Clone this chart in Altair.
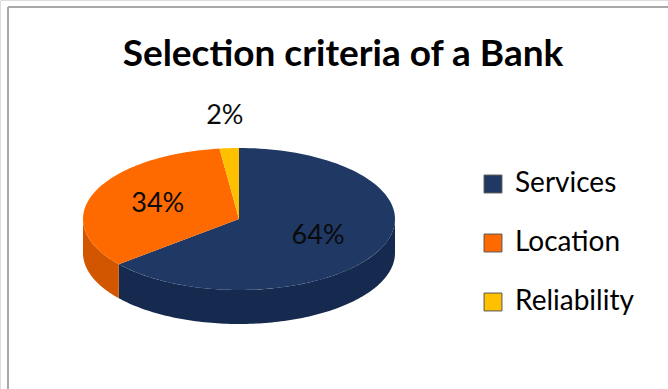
import numpy as np
import pandas as pd
import altair as alt

categories = ["Services", "Location", "Reliability"]
shares = [64, 34, 2]
top_colors = ["#1f3864", "#ff6a00", "#ffc000"]
side_colors = ["#152a4e", "#d25500", "#d9a300"]

CX, CY, RX, RY, DEPTH = 239, 219, 156, 71, 34
N = 120
FONT = "Lato"

total = float(sum(shares))
fr = np.concatenate([[0.0], np.cumsum(shares) / total])
d = DEPTH / RY

top_rows, side_rows, lab_rows = [], [], []
for k, cat in enumerate(categories):
    a0, a1 = fr[k] * 2 * np.pi, fr[k + 1] * 2 * np.pi
    pts = [(0.0, 0.0)] + [(np.sin(a), -np.cos(a)) for a in np.linspace(a0, a1, N)]
    for i, (u, v) in enumerate(pts):
        top_rows.append(dict(cat=cat, i=i, u=u, v=v))
    s0, s1 = max(a0, np.pi / 2), min(a1, 3 * np.pi / 2)
    if s1 > s0:
        arc = np.linspace(s0, s1, N)
        up = [(np.sin(a), -np.cos(a)) for a in arc]
        dn = [(u, v + d) for (u, v) in up[::-1]]
        for i, (u, v) in enumerate(up + dn):
            side_rows.append(dict(cat=cat, i=i, u=u, v=v, col=side_colors[k]))
    mid = (a0 + a1) / 2
    share = shares[k] / total
    r = 0.56 if share > 0.05 else 1.45
    lab_rows.append(dict(cat=cat, u=r * np.sin(mid), v=-r * np.cos(mid),
                         lab=f"{shares[k]}%"))

top_df = pd.DataFrame(top_rows)
side_df = pd.DataFrame(side_rows)
lab_df = pd.DataFrame(lab_rows)

xs = alt.Scale(domain=[-1, 1], range=[CX - RX, CX + RX], zero=False, nice=False)
ys = alt.Scale(domain=[-1, 1], range=[CY - RY, CY + RY], zero=False, nice=False)

side = alt.Chart(side_df).mark_line(filled=True, strokeWidth=0.5).encode(
    x=alt.X("u:Q", scale=xs, axis=None),
    y=alt.Y("v:Q", scale=ys, axis=None),
    color=alt.Color("col:N", scale=None, legend=None),
    detail="cat:N",
    order="i:Q",
)

top = alt.Chart(top_df).mark_line(filled=True, strokeWidth=0.5).encode(
    x=alt.X("u:Q", scale=xs, axis=None),
    y=alt.Y("v:Q", scale=ys, axis=None),
    color=alt.Color(
        "cat:N",
        scale=alt.Scale(domain=categories, range=top_colors),
        legend=alt.Legend(
            title=None, orient="none", legendX=479, legendY=170,
            symbolType="square", symbolSize=320, symbolStrokeWidth=1,
            symbolStrokeColor="#555555", symbolOpacity=1,
            labelFont=FONT, labelFontSize=28, labelColor="#000000",
            rowPadding=31, labelOffset=8, labelLimit=300,
        ),
        sort=categories,
    ),
    order="i:Q",
)

labels = alt.Chart(lab_df).mark_text(font=FONT, fontSize=27, color="#0a0a0a").encode(
    x=alt.X("u:Q", scale=xs, axis=None),
    y=alt.Y("v:Q", scale=ys, axis=None),
    text="lab:N",
)

frame_df = pd.DataFrame({"k": [0]})
vline = alt.Chart(frame_df).mark_rule(color="#a8a8a8", strokeWidth=2).encode(
    x=alt.value(8), y=alt.value(7), y2=alt.value(389)
)
hline = alt.Chart(frame_df).mark_rule(color="#a8a8a8", strokeWidth=2).encode(
    x=alt.value(8), x2=alt.value(668), y=alt.value(7)
)

chart = alt.layer(side, top, labels, vline, hline).resolve_scale(
    color="independent"
).properties(
    width=668, height=389, autosize="none", padding=0,
    title=alt.TitleParams(
        "Selection criteria of a Bank", font=FONT, fontSize=37, fontWeight="bold",
        color="#000000", anchor="middle", baseline="alphabetic", offset=0, dy=103, dx=9,
    ),
).configure_view(stroke=None).configure(background="white")

chart.save("out.html", embed_options={"renderer": "svg", "actions": False})
